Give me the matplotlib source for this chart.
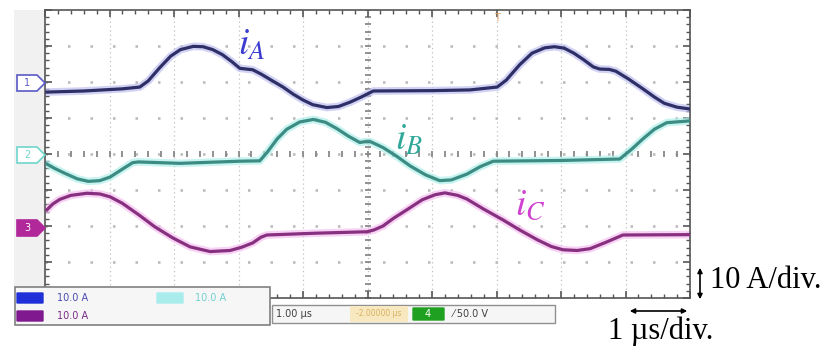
import matplotlib
matplotlib.use("Agg")
import matplotlib.pyplot as plt
from matplotlib.patches import Rectangle, FancyBboxPatch, Polygon, FancyArrowPatch
import numpy as np

plt.rcParams['mathtext.fontset'] = 'stix'

# time in us, currents in A (10 A/div, 1 us/div)
t_a = [0.03, 0.6, 1.2, 1.47, 1.6, 1.78, 1.95, 2.1, 2.3, 2.45, 2.6, 2.75, 2.9, 3.02, 3.12, 3.22,
       3.35, 3.5, 3.69, 3.85, 4.0, 4.15, 4.37, 4.55, 4.73, 4.9, 5.09, 6.0, 6.59, 7.01, 7.15,
       7.36, 7.55, 7.75, 7.9, 8.05, 8.2, 8.35, 8.5, 8.6, 8.75, 8.85, 9.05, 9.27, 9.45, 9.6,
       9.8, 10.0]
i_a = [-2.8, -2.5, -1.9, -1.4, 0.3, 4.0, 7.2, 9.0, 9.9, 9.8, 9.0, 7.6, 5.6, 3.8, 3.6, 3.4,
       2.2, 0.6, -1.4, -3.4, -5.0, -6.3, -7.1, -6.8, -5.6, -4.2, -2.5, -2.4, -2.2, -1.4, 0.5,
       4.8, 8.0, 9.5, 9.8, 9.4, 8.0, 6.2, 4.2, 3.6, 3.5, 3.0, 0.8, -1.9, -4.2, -5.9,
       -7.0, -7.5]

t_b = [0.03, 0.15, 0.3, 0.5, 0.67, 0.85, 1.01, 1.2, 1.36, 1.45, 2.09, 3.02, 3.33, 3.45, 3.6,
       3.75, 3.95, 4.16, 4.35, 4.53, 4.7, 4.88, 4.95, 5.05, 5.24, 5.45, 5.66, 5.9, 6.12, 6.3,
       6.54, 6.75, 6.95, 8.0, 8.91, 9.1, 9.27, 9.45, 9.64, 10.0]
i_b = [-2.8, -4.0, -5.3, -6.9, -7.6, -7.4, -6.4, -4.2, -2.4, -2.2, -2.6, -2.0, -1.9, 0.6, 4.2,
       6.9, 8.9, 9.6, 8.8, 7.0, 5.0, 3.2, 3.4, 3.4, 1.8, -0.6, -3.3, -5.8, -7.4, -7.2,
       -5.6, -3.5, -2.0, -1.8, -1.4, 1.4, 4.2, 6.9, 8.7, 9.2]

t_c = [0.03, 0.12, 0.23, 0.4, 0.65, 0.85, 1.01, 1.2, 1.47, 1.7, 1.98, 2.25, 2.56, 2.87, 3.05,
       3.22, 3.35, 3.44, 4.2, 4.99, 5.1, 5.24, 5.4, 5.61, 5.85, 6.05, 6.2, 6.4, 6.54, 6.8,
       7.1, 7.35, 7.63, 7.85, 8.03, 8.25, 8.45, 8.7, 8.96, 10.0]
i_c = [5.0, 6.6, 7.9, 9.0, 9.6, 9.4, 8.6, 6.8, 3.4, 0.3, -2.8, -5.3, -6.6, -6.3, -5.4,
       -4.2, -2.6, -2.0, -1.5, -1.1, -0.6, 0.5, 2.6, 5.0, 7.8, 9.2, 9.7, 9.0, 8.0, 5.2,
       2.2, -0.5, -3.3, -5.2, -6.1, -6.3, -5.8, -4.0, -2.0, -1.9]

offsets = {"A": 2.0, "B": 0.0, "C": -2.05}
trace_colors = {"A": "#2e2f66", "B": "#3d8c84", "C": "#883080"}
glow_colors = {"A": "#c0c0f0", "B": "#b0f0ea", "C": "#f6c0f2"}
label_colors = {"A": "#3b3bd0", "B": "#2fa89a", "C": "#d040d0"}

W, H = 838, 348


def fx(x):
    return x / W


def fy(y):
    return 1 - y / H


fig = plt.figure(figsize=(W / 100, H / 100), dpi=100)

# light band left of the screen
fig.add_artist(Rectangle((fx(14), fy(287)), 31 / W, 277 / H, transform=fig.transFigure,
                         facecolor="#f1f1f1", edgecolor="none", zorder=0))

ax = fig.add_axes([fx(45), fy(298), 645 / W, 288 / H])
ax.set_xlim(0, 10)
ax.set_ylim(-4, 4)
ax.set_facecolor("white")
for s in ax.spines.values():
    s.set_color("#555555")
    s.set_linewidth(1.2)
ax.set_xticks(np.arange(0, 11, 1))
ax.set_yticks(np.arange(-4, 5, 1))
ax.set_xticks(np.arange(0, 10.01, 0.2), minor=True)
ax.set_yticks(np.arange(-4, 4.01, 0.2), minor=True)
ax.tick_params(which="both", direction="in", top=True, right=True, labelbottom=False,
               labelleft=False, color="#555555")
ax.tick_params(which="major", length=5, width=1.2)
ax.tick_params(which="minor", length=3, width=1.0)

# dotted graticule
for gx in range(1, 10):
    ax.axvline(gx, color="#c0c0c0", lw=0.9, ls=(0, (1, 2.5)), zorder=1)
for gy in range(-3, 4):
    ax.axhline(gy, color="#b8b8b8", lw=1.8, ls=(0, (1, 8)), zorder=1)
# centre cross with small ticks
cx = np.arange(0, 10.01, 0.2)
cy = np.arange(-4, 4.01, 0.2)
ax.plot(cx, np.zeros_like(cx), ls="none", marker="|", ms=4, mew=1.3, color="#888888", zorder=1)
ax.plot(np.full_like(cy, 5.0), cy, ls="none", marker="_", ms=4, mew=1.3, color="#888888", zorder=1)

for key, tt, ii in (("A", t_a, i_a), ("B", t_b, i_b), ("C", t_c, i_c)):
    yy = offsets[key] + np.array(ii) / 10.0
    ax.plot(tt, yy, color=glow_colors[key], lw=5.5, alpha=0.7, solid_joinstyle="round",
            solid_capstyle="round", zorder=2)
    ax.plot(tt, yy, color=trace_colors[key], lw=2.3, solid_joinstyle="round", zorder=3)

# trace labels
fig.text(fx(238), fy(45), r"$i_A$", color=label_colors["A"], fontsize=27, va="center")
fig.text(fx(395), fy(140), r"$i_B$", color=label_colors["B"], fontsize=27, va="center")
fig.text(fx(515), fy(205), r"$i_C$", color=label_colors["C"], fontsize=27, va="center")


# channel markers
def marker(y, col, num, filled):
    pts = [(fx(17), fy(y - 8)), (fx(37), fy(y - 8)), (fx(45), fy(y)), (fx(37), fy(y + 8)), (fx(17), fy(y + 8))]
    fig.add_artist(Polygon(pts, closed=True, transform=fig.transFigure,
                           facecolor=col if filled else "white", edgecolor=col, lw=1.2, zorder=5))
    fig.text(fx(27), fy(y), num, color="white" if filled else col, fontsize=7,
             ha="center", va="center", zorder=6)


marker(83, "#5a5ac8", "1", False)
marker(155, "#6fd6cc", "2", False)
marker(228, "#b0289a", "3", True)

# trigger marker
fig.text(fx(497), fy(18), "T", color="#e0a060", fontsize=7, ha="center", va="center")

# status bar, channel scales
fig.add_artist(Rectangle((fx(15), fy(325)), 255 / W, 38 / H, transform=fig.transFigure,
                         facecolor="#f6f6f6", edgecolor="#808080", lw=1.2, zorder=7))
fig.add_artist(FancyBboxPatch((fx(18), fy(303)), 24 / W, 10 / H, boxstyle="round,pad=0.002",
                              transform=fig.transFigure, facecolor="#2030d8", edgecolor="none", zorder=8))
fig.add_artist(FancyBboxPatch((fx(18), fy(321)), 24 / W, 10 / H, boxstyle="round,pad=0.002",
                              transform=fig.transFigure, facecolor="#801890", edgecolor="none", zorder=8))
fig.add_artist(FancyBboxPatch((fx(158), fy(303)), 24 / W, 10 / H, boxstyle="round,pad=0.002",
                              transform=fig.transFigure, facecolor="#a8ecec", edgecolor="none", zorder=8))
fig.text(fx(57), fy(298), "10.0 A", color="#4a4ab0", fontsize=7, va="center", zorder=9)
fig.text(fx(57), fy(316), "10.0 A", color="#7a2a8a", fontsize=7, va="center", zorder=9)
fig.text(fx(195), fy(298), "10.0 A", color="#70d0d0", fontsize=7, va="center", zorder=9)

# status bar, timebase / trigger
fig.add_artist(Rectangle((fx(272), fy(323)), 283 / W, 18 / H, transform=fig.transFigure,
                         facecolor="#f6f6f6", edgecolor="#909090", lw=1.0, zorder=7))
fig.add_artist(Rectangle((fx(350), fy(322)), 58 / W, 16 / H, transform=fig.transFigure,
                         facecolor="#f8e8c0", edgecolor="none", zorder=8))
fig.add_artist(FancyBboxPatch((fx(414), fy(320)), 29 / W, 12 / H, boxstyle="round,pad=0.002",
                              transform=fig.transFigure, facecolor="#20a020", edgecolor="none", zorder=8))
fig.text(fx(276), fy(314), "1.00 µs", color="#404040", fontsize=7, va="center", zorder=9)
fig.text(fx(379), fy(314), "-2.00000 µs", color="#d8b060", fontsize=5.5, va="center", ha="center", zorder=9)
fig.text(fx(428), fy(314), "4", color="white", fontsize=7, va="center", ha="center", zorder=9)
fig.text(fx(453), fy(314), "⁄ 50.0 V", color="#404040", fontsize=7, va="center", zorder=9)

# scale annotations
fig.add_artist(FancyArrowPatch((fx(700), fy(265)), (fx(700), fy(302)),
                               arrowstyle="<|-|>", mutation_scale=7, lw=1.2,
                               color="black", transform=fig.transFigure))
fig.add_artist(FancyArrowPatch((fx(627), fy(311)), (fx(690), fy(311)),
                               arrowstyle="<|-|>", mutation_scale=7, lw=1.2,
                               color="black", transform=fig.transFigure))
fig.text(fx(710), fy(281), "10 A/div.", fontsize=22, family="Liberation Serif", va="center")
fig.text(fx(661), fy(331), "1 µs/div.", fontsize=22, family="Liberation Serif", va="center", ha="center")

fig.savefig("out.png", dpi=100)
